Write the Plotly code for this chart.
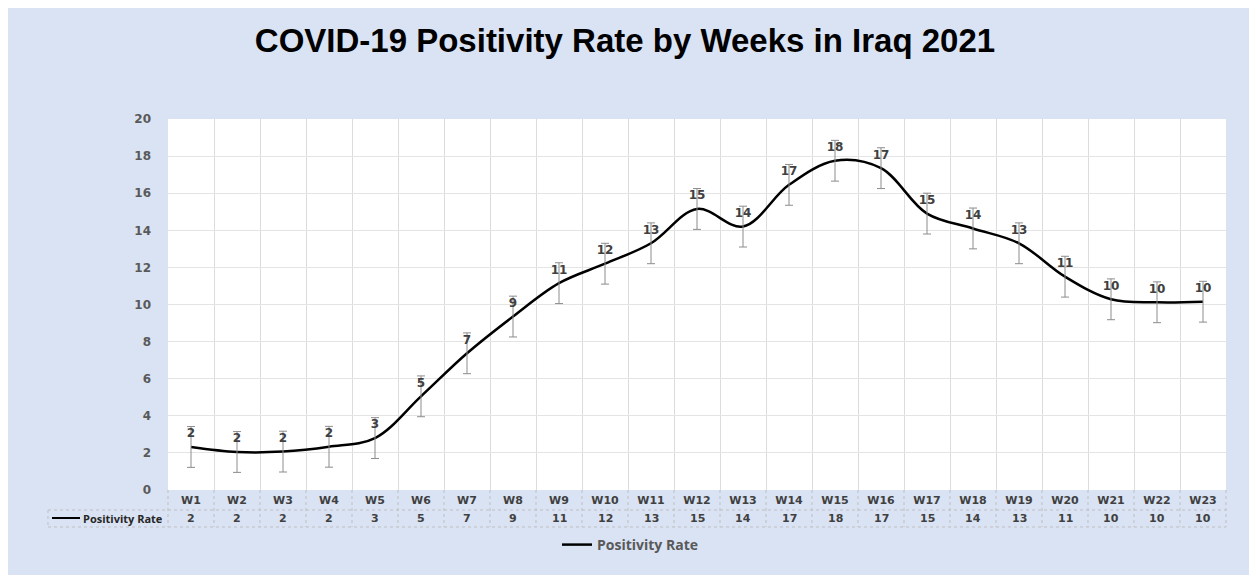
import plotly.graph_objects as go

# ---- data ----
weeks = ["W1", "W2", "W3", "W4", "W5", "W6", "W7", "W8", "W9", "W10", "W11", "W12",
         "W13", "W14", "W15", "W16", "W17", "W18", "W19", "W20", "W21", "W22", "W23"]
rate_line = [2.32, 2.05, 2.07, 2.33, 2.8, 5.05, 7.37, 9.35, 11.15, 12.2, 13.3, 15.15,
             14.2, 16.45, 17.75, 17.35, 14.9, 14.1, 13.3, 11.5, 10.28, 10.12, 10.15]
rate_table = [2, 2, 2, 2, 3, 5, 7, 9, 11, 12, 13, 15, 14, 17, 18, 17, 15, 14, 13, 11, 10, 10, 10]
rate_error = [1.1] * len(weeks)
series_name = "Positivity Rate"
title_text = "COVID-19 Positivity Rate by Weeks in Iraq 2021"
y_ticks = [0, 2, 4, 6, 8, 10, 12, 14, 16, 18, 20]

# ---- layout geometry (pixels, page coordinates; figure sits 8px in from the page edge) ----
OFF = 8
W, H = 1257, 575
ML = 168 - OFF
MT = 119 - OFF
MB = H - (490 - OFF)
MR = W - (1226 - OFF)
PW, PH = W - ML - MR, H - MT - MB
BG = "#DAE3F3"
GRID = "#DCDCDC"
TABLE_LINE = "#BFBFBF"


def px_x(p):
    return (p - OFF - ML) / PW


def px_y(p):
    return (H - MB - (p - OFF)) / PH


n = len(weeks)

fig = go.Figure()
fig.add_trace(go.Scatter(
    x=weeks, y=rate_line, name=series_name, mode="lines",
    line=dict(color="black", width=2.5, shape="spline", smoothing=1.0),
    hoverinfo="x+y",
))
fig.add_trace(go.Scatter(
    x=weeks, y=rate_line, name=series_name, mode="markers+text", showlegend=False,
    marker=dict(size=9, opacity=0),
    text=[str(v) for v in rate_table],
    textposition="top center",
    textfont=dict(family="DejaVu Sans", size=12, color="#404040", weight="bold"),
    error_y=dict(type="data", array=rate_error, visible=True,
                 color="#8C8C8C", thickness=1, width=4),
    hoverinfo="skip",
))

shapes = []
# data table grid (dotted)
y_row1, y_row2, y_row3 = 0, px_y(510), px_y(527)
for yy in (y_row2, y_row3):
    shapes.append(dict(type="line", xref="paper", yref="paper", x0=0, x1=1, y0=yy, y1=yy,
                       line=dict(color=TABLE_LINE, width=1, dash="dot")))
for i in range(n + 1):
    shapes.append(dict(type="line", xref="paper", yref="paper", x0=i / n, x1=i / n,
                       y0=y_row1, y1=y_row3,
                       line=dict(color=TABLE_LINE, width=1, dash="dot")))
# header cell of value row
x_head = px_x(48)
for yy in (y_row2, y_row3):
    shapes.append(dict(type="line", xref="paper", yref="paper", x0=x_head, x1=0, y0=yy, y1=yy,
                       line=dict(color=TABLE_LINE, width=1, dash="dot")))
shapes.append(dict(type="line", xref="paper", yref="paper", x0=x_head, x1=x_head,
                   y0=y_row2, y1=y_row3, line=dict(color=TABLE_LINE, width=1, dash="dot")))
# legend key in table
y_val = px_y(518)
shapes.append(dict(type="line", xref="paper", yref="paper", x0=px_x(52), x1=px_x(80),
                   y0=y_val, y1=y_val, line=dict(color="black", width=2)))

annotations = []
annotations.append(dict(xref="paper", yref="paper", x=px_x(81), y=y_val, xanchor="left",
                        yanchor="middle", showarrow=False, text=series_name,
                        font=dict(family="Open Sans", size=11, color="#262626", weight="bold")))
for wk, v in zip(weeks, rate_table):
    annotations.append(dict(xref="x", yref="paper", x=wk, y=y_val, xanchor="center",
                            yanchor="middle", showarrow=False, text=str(v),
                            font=dict(family="DejaVu Sans", size=11, color="#404040",
                                      weight="bold")))

fig.update_layout(
    width=W, height=H,
    margin=dict(l=ML, r=MR, t=MT, b=MB, pad=0),
    paper_bgcolor=BG,
    plot_bgcolor="white",
    title=dict(text=title_text, xref="container", x=(625 - OFF) / W, xanchor="center",
               y=1 - (40 - OFF) / H, yanchor="middle",
               font=dict(family="Liberation Sans", size=33, color="black", weight="bold")),
    xaxis=dict(type="category", categoryorder="array", categoryarray=weeks,
               range=[-0.5, n - 0.5], tickson="boundaries", showgrid=True, gridcolor=GRID,
               gridwidth=1, ticks="", showline=False, zeroline=False,
               tickfont=dict(family="DejaVu Sans", size=11, color="#404040", weight="bold"),
               ticklabelstandoff=2, fixedrange=True),
    yaxis=dict(range=[0, 20], tickvals=y_ticks, showgrid=True, gridcolor="#E4E4E4",
               gridwidth=1, zeroline=False, showline=False, ticks="",
               tickfont=dict(family="DejaVu Sans", size=12, color="#595959", weight="bold"),
               ticklabelstandoff=16, fixedrange=True),
    showlegend=True,
    legend=dict(orientation="h", x=px_x(557), xanchor="left", y=px_y(545), yanchor="middle",
                bgcolor="rgba(0,0,0,0)",
                font=dict(family="Open Sans", size=14, color="#595959", weight="bold")),
    shapes=shapes,
    annotations=annotations,
)

fig.write_html("out.html")
